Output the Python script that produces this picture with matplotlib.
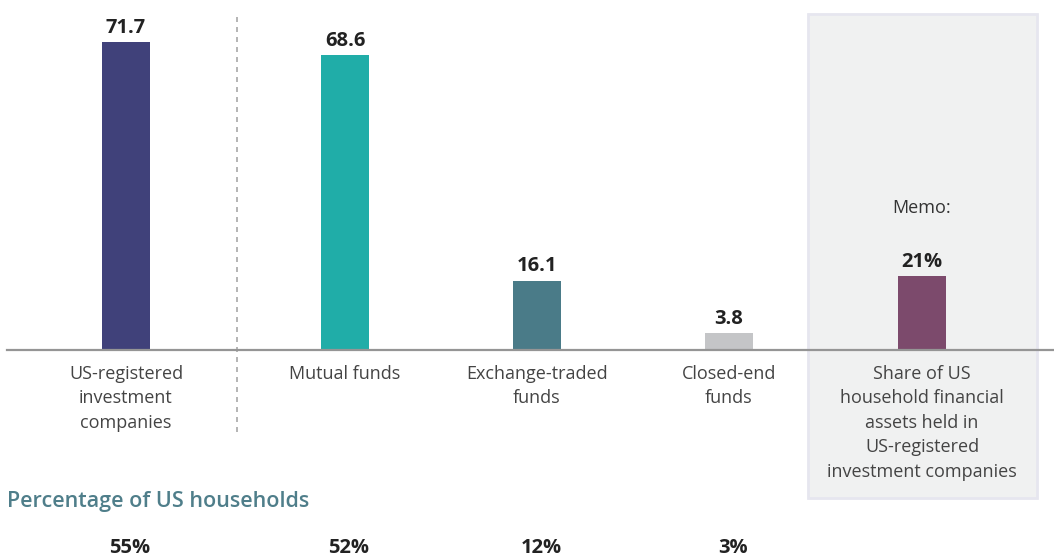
import matplotlib
matplotlib.use("Agg")
import matplotlib.pyplot as plt
from matplotlib.patches import Rectangle
from matplotlib.lines import Line2D

# Assets (trillions of US dollars) by fund type
categories = ["US-registered\ninvestment\ncompanies", "Mutual funds",
              "Exchange-traded\nfunds", "Closed-end\nfunds"]
assets = [71.7, 68.6, 16.1, 3.8]
asset_labels = ["71.7", "68.6", "16.1", "3.8"]
bar_colors = ["#40417a", "#20ada8", "#4a7b88", "#c4c5c7"]

# Memo: share of household financial assets (percent)
memo_category = "Share of US\nhousehold financial\nassets held in\nUS-registered\ninvestment companies"
memo_value = 21
memo_label = "21%"
memo_color = "#7c4a6c"

# Percentage of US households owning each fund type
household_pct = ["55%", "52%", "12%", "3%"]

plt.rcParams["font.family"] = ["Open Sans", "DejaVu Sans"]

W, H = 1054, 558
fig = plt.figure(figsize=(W / 100, H / 100), dpi=100)

base_px = 349.7
def fy(py):
    return 1 - py / H

# Memo panel background
fig.patches.append(Rectangle((808 / W, fy(498)), (1037 - 808) / W, (498 - 14) / H,
                             transform=fig.transFigure, facecolor="#f0f1f1",
                             edgecolor="#e6e6ef", linewidth=2, zorder=0))

ax = fig.add_axes([0, fy(base_px), 1, base_px / H])
ax.set_zorder(2)
ax.set_xlim(0, W)
ax.set_ylim(0, base_px / 4.29)
ax.patch.set_alpha(0)

xpos = [126, 345, 537, 729]
memo_x = 922
bw = 48
VAL_FS = 14.5
CAT_FS = 13

bars = ax.bar(xpos, assets, width=bw, color=bar_colors, zorder=3)
for b, lab in zip(bars, asset_labels):
    ax.annotate(lab, (b.get_x() + b.get_width() / 2, b.get_height()),
                xytext=(0, 3), textcoords="offset points", ha="center", va="bottom",
                fontsize=VAL_FS, fontweight="bold", color="#222222")

ax2 = ax.twinx()
ax2.set_zorder(3)
ax2.set_ylim(0, 100)
ax2.patch.set_alpha(0)
ax2.bar([memo_x], [memo_value], width=bw, color=memo_color, zorder=3)
ax2.annotate(memo_label, (memo_x, memo_value), xytext=(0, 3), textcoords="offset points",
             ha="center", va="bottom", fontsize=VAL_FS, fontweight="bold", color="#222222")
fig.text(memo_x / W, fy(208), "Memo:", ha="center", va="center", fontsize=CAT_FS,
         color="#333333")

for a in (ax, ax2):
    for s in a.spines.values():
        s.set_visible(False)
    a.set_yticks([])
ax.set_xticks(xpos + [memo_x])
ax.set_xticklabels(categories + [memo_category], fontsize=CAT_FS, color="#444444",
                   linespacing=1.46, va="top")
ax.tick_params(axis="x", length=0, pad=11)

# Baseline
fig.add_artist(Line2D([7 / W, 1], [fy(base_px)] * 2, color="#959595", linewidth=1.6, zorder=4))
# Divider between total and its components
fig.add_artist(Line2D([237 / W] * 2, [fy(17), fy(432)], color="#a8a8a8", linewidth=1.2,
                      linestyle=(0, (3, 3))))

fig.text(7 / W, fy(501), "Percentage of US households", ha="left", va="center",
         fontsize=15.5, fontweight="semibold", color="#4f7e8a")
for x, p in zip(xpos, household_pct):
    fig.text((x + 4) / W, fy(548), p, ha="center", va="center", fontsize=VAL_FS,
             fontweight="bold", color="#222222")

fig.savefig("out.png", dpi=100)
